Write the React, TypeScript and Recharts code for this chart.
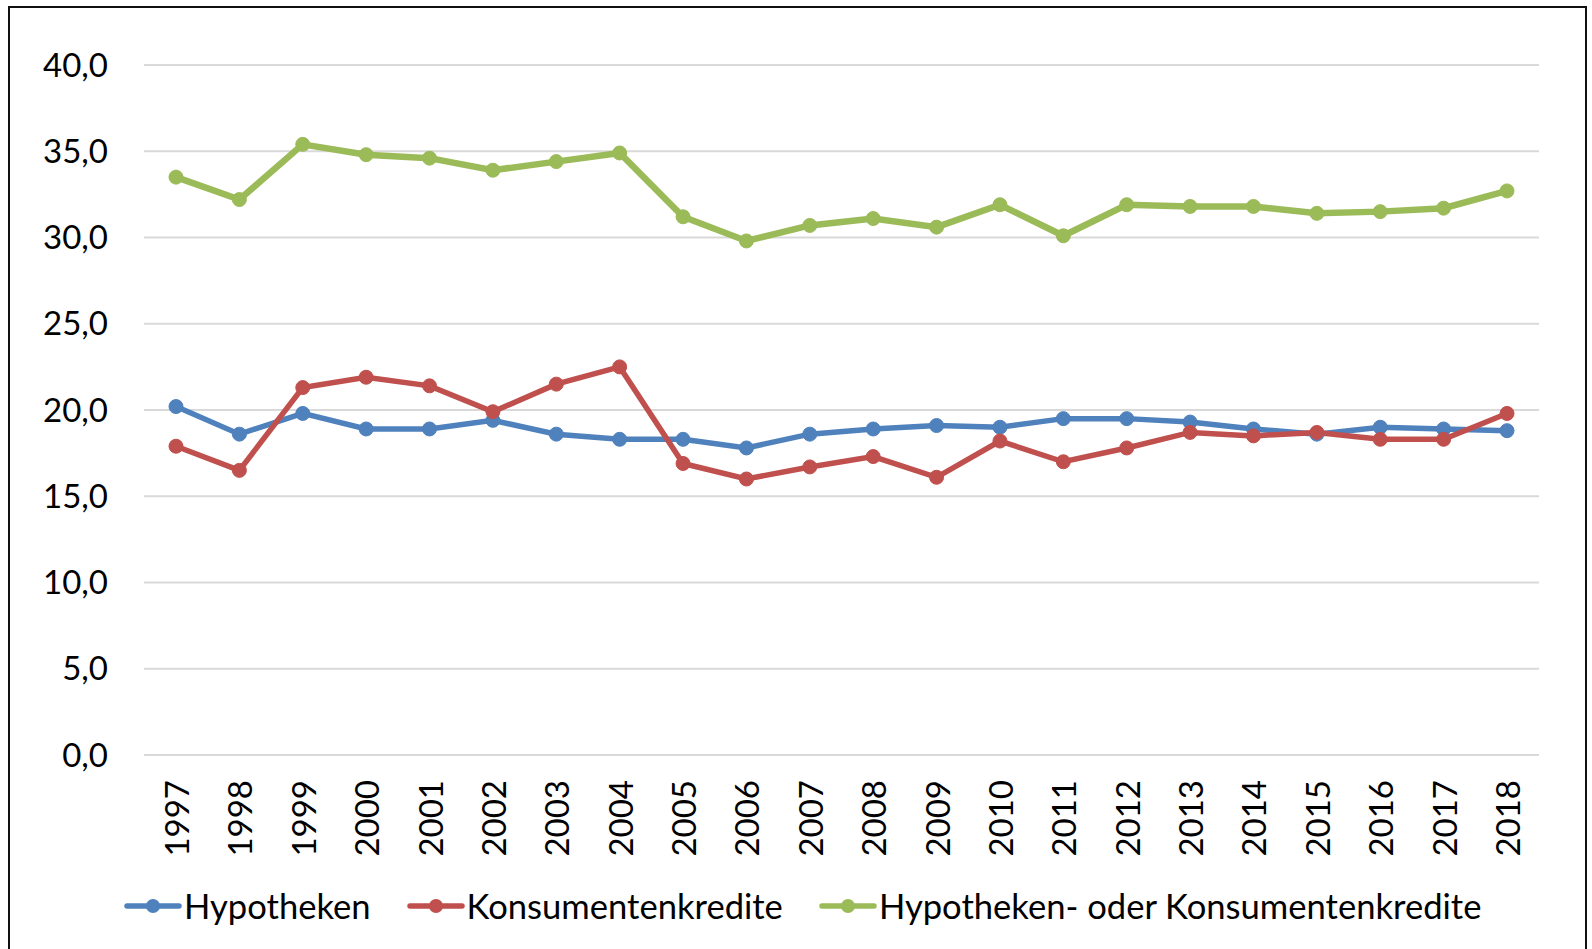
import React from "react";
import {
  LineChart,
  Line,
  XAxis,
  YAxis,
  CartesianGrid,
  Legend,
} from "recharts";

/* ---------- Data ---------- */

const years = [
  "1997", "1998", "1999", "2000", "2001", "2002", "2003", "2004", "2005", "2006", "2007",
  "2008", "2009", "2010", "2011", "2012", "2013", "2014", "2015", "2016", "2017", "2018",
];

const hypotheken = [
  20.2, 18.6, 19.8, 18.9, 18.9, 19.4, 18.6, 18.3, 18.3, 17.8, 18.6,
  18.9, 19.1, 19.0, 19.5, 19.5, 19.3, 18.9, 18.6, 19.0, 18.9, 18.8,
];

const konsumentenkredite = [
  17.9, 16.5, 21.3, 21.9, 21.4, 19.9, 21.5, 22.5, 16.9, 16.0, 16.7,
  17.3, 16.1, 18.2, 17.0, 17.8, 18.7, 18.5, 18.7, 18.3, 18.3, 19.8,
];

const beide = [
  33.5, 32.2, 35.4, 34.8, 34.6, 33.9, 34.4, 34.9, 31.2, 29.8, 30.7,
  31.1, 30.6, 31.9, 30.1, 31.9, 31.8, 31.8, 31.4, 31.5, 31.7, 32.7,
];

const seriesNames = [
  "Hypotheken",
  "Konsumentenkredite",
  "Hypotheken- oder Konsumentenkredite",
];

const yTicks = [0, 5, 10, 15, 20, 25, 30, 35, 40];

const data = years.map((year, i) => ({
  year,
  hypotheken: hypotheken[i],
  konsumentenkredite: konsumentenkredite[i],
  beide: beide[i],
}));

/* ---------- Helpers ---------- */

const FONT = "Lato, 'Open Sans', sans-serif";

const fmt = (v: number) => v.toFixed(1).replace(".", ",");

const YearTick = (props: any) => {
  const { x, y, payload } = props;
  return (
    <text
      x={x}
      y={y}
      transform={`rotate(-90 ${x} ${y})`}
      textAnchor="end"
      dominantBaseline="central"
      fontFamily={FONT}
      fontSize={33}
      fill="#000"
    >
      {payload.value}
    </text>
  );
};

const renderLegend = (props: any) => {
  const items = [...(props.payload || [])].sort(
    (a: any, b: any) => seriesNames.indexOf(a.value) - seriesNames.indexOf(b.value)
  );
  return (
    <div
      style={{
        display: "flex",
        alignItems: "center",
        height: 40,
        paddingLeft: 124,
        fontFamily: FONT,
        fontSize: 34.6,
        color: "#000",
      }}
    >
      {items.map((entry: any, i: number) => (
        <div key={i} style={{ display: "flex", alignItems: "center", marginRight: 36 }}>
          <svg width={58} height={16} style={{ display: "block" }}>
            <line x1={3} y1={8} x2={55} y2={8} stroke={entry.color} strokeWidth={5.5} strokeLinecap="round" />
            <circle cx={29} cy={8} r={7} fill={entry.color} />
          </svg>
          <span style={{ marginLeft: 2, lineHeight: "40px" }}>{entry.value}</span>
        </div>
      ))}
    </div>
  );
};

/* ---------- Component ---------- */

export default function App() {
  return (
    <div
      style={{
        position: "absolute",
        left: 0,
        top: 0,
        width: 1592,
        height: 949,
        overflow: "hidden",
        background: "#fff",
      }}
    >
      <div
        style={{
          position: "absolute",
          left: 8,
          top: 6,
          width: 1579,
          height: 1000,
          border: "2px solid #111",
          boxSizing: "border-box",
        }}
      />
      <LineChart
        width={1592}
        height={949}
        data={data}
        margin={{ top: 65, right: 53, left: 0, bottom: 0 }}
      >
        <CartesianGrid horizontal vertical={false} stroke="#d9d9d9" strokeWidth={2} />
        <XAxis
          dataKey="year"
          axisLine={false}
          tickLine={false}
          tickSize={0}
          tickMargin={25}
          height={154}
          interval={0}
          padding={{ left: 32, right: 32 }}
          tick={<YearTick />}
        />
        <YAxis
          domain={[0, 40]}
          ticks={yTicks}
          width={144}
          axisLine={false}
          tickLine={false}
          tickSize={0}
          tickMargin={36}
          tickFormatter={fmt}
          tick={{ fontFamily: FONT, fontSize: 33, fill: "#000" }}
        />
        <Legend
          content={renderLegend}
          wrapperStyle={{ left: 0, top: 886, width: 1592, height: 40 }}
        />
        <Line
          name={seriesNames[0]}
          dataKey="hypotheken"
          stroke="#4F81BD"
          strokeWidth={5.5}
          dot={{ r: 7, fill: "#4F81BD", stroke: "#4F81BD", strokeWidth: 1 }}
          isAnimationActive={false}
        />
        <Line
          name={seriesNames[1]}
          dataKey="konsumentenkredite"
          stroke="#C0504D"
          strokeWidth={5.5}
          dot={{ r: 7, fill: "#C0504D", stroke: "#C0504D", strokeWidth: 1 }}
          isAnimationActive={false}
        />
        <Line
          name={seriesNames[2]}
          dataKey="beide"
          stroke="#9BBB59"
          strokeWidth={6.5}
          dot={{ r: 7, fill: "#9BBB59", stroke: "#9BBB59", strokeWidth: 1 }}
          isAnimationActive={false}
        />
      </LineChart>
    </div>
  );
}
